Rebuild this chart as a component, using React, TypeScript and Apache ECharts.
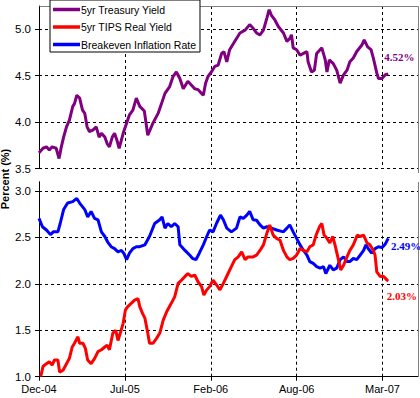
import React, { useEffect, useRef } from "react";
import * as echarts from "echarts";

// x = trading-day index from Dec-04; y = percent
const dateLabels = ["Dec-04", "Jul-05", "Feb-06", "Aug-06", "Mar-07"];
const tickStep = 150;
const xMax = 662;

const treasury: [number, number][] = [
  [0, 3.67], [7, 3.72], [13, 3.735], [18, 3.7], [23, 3.735], [30, 3.72], [35, 3.61], [39, 3.735],
  [43, 3.84], [48, 3.95], [53, 4.02], [59, 4.17], [62, 4.2], [66, 4.29], [71, 4.26], [76, 4.13],
  [80, 4.095], [84, 3.95], [88, 3.9], [94, 3.915], [100, 3.95], [105, 3.84], [109, 3.88], [115, 3.84],
  [119, 3.77], [123, 3.735], [128, 3.84], [132, 3.88], [136, 3.81], [140, 3.72], [144, 3.81], [148, 3.9],
  [153, 3.99], [158, 4.08], [164, 4.13], [170, 4.26], [176, 4.17], [184, 4.12], [190, 3.86], [199, 3.99],
  [208, 4.095], [214, 4.2], [220, 4.31], [228, 4.38], [234, 4.49], [240, 4.54], [246, 4.47], [252, 4.36],
  [260, 4.44], [266, 4.4], [272, 4.36], [278, 4.35], [284, 4.31], [287, 4.29], [291, 4.42], [295, 4.49],
  [301, 4.54], [307, 4.6], [313, 4.615], [319, 4.74], [323, 4.76], [328, 4.65], [333, 4.78], [342, 4.87],
  [351, 4.96], [360, 4.99], [368, 5.05], [374, 5.01], [380, 4.96], [386, 4.94], [392, 4.99], [398, 5.12],
  [402, 5.21], [406, 5.15], [412, 5.1], [418, 5.03], [427, 4.96], [433, 4.87], [438, 4.9], [441, 4.94],
  [444, 4.8], [450, 4.78], [456, 4.72], [462, 4.74], [468, 4.76], [470, 4.65], [476, 4.54], [481, 4.56],
  [485, 4.74], [494, 4.8], [500, 4.67], [503, 4.54], [507, 4.67], [514, 4.63], [520, 4.56], [526, 4.42],
  [532, 4.51], [538, 4.56], [543, 4.65], [549, 4.69], [555, 4.76], [564, 4.83], [568, 4.885], [574, 4.81],
  [580, 4.78], [584, 4.69], [590, 4.53], [593, 4.47], [599, 4.47], [605, 4.51], [610, 4.52],
];

const tipsReal: [number, number][] = [
  [3, 1.0], [7, 1.11], [13, 1.14], [18, 1.16], [23, 1.125], [27, 1.18], [33, 1.18], [36, 1.05],
  [42, 1.07], [48, 1.14], [53, 1.195], [58, 1.32], [62, 1.36], [68, 1.43], [71, 1.36], [77, 1.36],
  [81, 1.305], [85, 1.18], [91, 1.14], [97, 1.195], [103, 1.27], [109, 1.29], [115, 1.32], [119, 1.34],
  [123, 1.29], [129, 1.47], [134, 1.5], [138, 1.39], [142, 1.47], [147, 1.575], [151, 1.72], [155, 1.755],
  [161, 1.79], [167, 1.825], [173, 1.84], [176, 1.755], [181, 1.68], [185, 1.63], [190, 1.47], [193, 1.36],
  [199, 1.36], [205, 1.41], [211, 1.47], [217, 1.61], [223, 1.7], [231, 1.79], [237, 1.86], [243, 2.005],
  [249, 2.04], [255, 2.08], [260, 2.11], [266, 2.08], [272, 2.095], [278, 2.02], [284, 1.97], [288, 1.88],
  [293, 1.935], [298, 1.97], [304, 2.04], [310, 1.99], [316, 1.935], [322, 2.005], [329, 2.095], [336, 2.185],
  [342, 2.26], [348, 2.29], [354, 2.345], [360, 2.26], [365, 2.29], [374, 2.29], [380, 2.31], [386, 2.36],
  [392, 2.42], [398, 2.545], [403, 2.635], [409, 2.525], [415, 2.49], [421, 2.47], [427, 2.36], [433, 2.29],
  [438, 2.26], [444, 2.275], [450, 2.31], [456, 2.38], [462, 2.36], [468, 2.345], [473, 2.4], [479, 2.42],
  [484, 2.525], [490, 2.615], [494, 2.65], [498, 2.525], [503, 2.49], [508, 2.44], [513, 2.51], [517, 2.42],
  [523, 2.26], [527, 2.15], [532, 2.2], [538, 2.29], [543, 2.36], [549, 2.42], [556, 2.525], [561, 2.51],
  [567, 2.525], [573, 2.44], [578, 2.42], [584, 2.36], [587, 2.31], [590, 2.13], [596, 2.08], [602, 2.08],
  [608, 2.04], [610, 2.03],
];

const breakeven: [number, number][] = [
  [0, 2.705], [6, 2.615], [13, 2.58], [20, 2.53], [25, 2.56], [33, 2.56], [37, 2.65], [43, 2.8],
  [50, 2.87], [59, 2.885], [66, 2.92], [71, 2.87], [80, 2.8], [85, 2.72], [91, 2.78], [97, 2.705],
  [103, 2.69], [109, 2.56], [115, 2.51], [120, 2.45], [126, 2.4], [132, 2.38], [138, 2.345], [144, 2.36],
  [148, 2.33], [153, 2.26], [158, 2.33], [164, 2.38], [170, 2.4], [176, 2.4], [185, 2.42], [193, 2.51],
  [202, 2.65], [211, 2.69], [215, 2.72], [220, 2.6], [225, 2.65], [231, 2.615], [237, 2.65], [243, 2.615],
  [246, 2.42], [255, 2.36], [263, 2.31], [268, 2.275], [274, 2.26], [280, 2.33], [287, 2.42], [293, 2.51],
  [298, 2.58], [304, 2.56], [310, 2.65], [317, 2.74], [322, 2.69], [328, 2.6], [336, 2.56], [345, 2.6],
  [351, 2.72], [357, 2.705], [363, 2.74], [368, 2.78], [374, 2.69], [380, 2.685], [386, 2.635], [392, 2.6],
  [398, 2.615], [406, 2.6], [415, 2.58], [427, 2.56], [433, 2.6], [438, 2.635], [444, 2.56], [450, 2.49],
  [456, 2.42], [462, 2.36], [468, 2.31], [473, 2.24], [479, 2.22], [485, 2.185], [491, 2.17], [497, 2.185],
  [501, 2.11], [508, 2.2], [514, 2.15], [520, 2.17], [526, 2.26], [532, 2.29], [538, 2.24], [543, 2.24],
  [549, 2.275], [555, 2.26], [561, 2.31], [567, 2.36], [571, 2.42], [575, 2.38], [581, 2.33], [587, 2.38],
  [593, 2.4], [599, 2.39], [605, 2.43], [610, 2.49],
];

const SANS = "Liberation Sans";
const SERIF = "Liberation Serif";
const dash = { color: "#000", type: [3, 3] as number[], width: 1 };

function xAxisFor(gridIndex: number, visible: boolean) {
  return {
    gridIndex,
    type: "value",
    min: 0,
    max: xMax,
    interval: tickStep,
    axisLine: { show: visible, onZero: false, lineStyle: { color: "#000", width: 1 } },
    axisTick: { show: visible, length: 4, lineStyle: { color: "#000" } },
    axisLabel: {
      show: visible,
      margin: 7,
      fontSize: 11,
      fontFamily: SANS,
      color: "#000",
      showMaxLabel: false,
      formatter: (v: number) => dateLabels[Math.round(v / tickStep)] ?? "",
    },
    splitLine: { show: true, showMinLine: false, showMaxLine: false, lineStyle: dash },
  };
}

function yAxisFor(gridIndex: number, min: number, max: number) {
  return {
    gridIndex,
    type: "value",
    min,
    max,
    interval: 0.5,
    axisLine: { show: true, onZero: false, lineStyle: { color: "#000", width: 1 } },
    axisTick: { show: true, length: 4, lineStyle: { color: "#000" } },
    axisLabel: {
      margin: 8,
      fontSize: 11.5,
      fontFamily: SANS,
      color: "#000",
      showMaxLabel: false,
      formatter: (v: number) => v.toFixed(1),
    },
    splitLine: { show: true, showMaxLine: false, lineStyle: dash },
  };
}

function endLabel(color: string, offset: number[]) {
  return {
    show: true,
    distance: 0,
    offset,
    color,
    fontFamily: SERIF,
    fontWeight: "bold",
    fontSize: 11,
    formatter: (p: any) => `${Number(p.value[1]).toFixed(2)}%`,
  };
}

export default function App() {
  const ref = useRef<HTMLDivElement>(null);
  useEffect(() => {
    document.body.style.margin = "0";
    if (!ref.current) return;
    const chart = echarts.init(ref.current, null, { renderer: "svg" });
    chart.setOption({
      animation: false,
      backgroundColor: "#fff",
      grid: [
        { left: 39, right: 2, top: 6, bottom: 229.3 },
        { left: 39, right: 2, top: 181.7, bottom: 21.3 },
      ],
      xAxis: [xAxisFor(0, false), xAxisFor(1, true)],
      yAxis: [yAxisFor(0, 3.5, 5.25), yAxisFor(1, 1.0, 3.1)],
      legend: {
        data: ["5yr Treasury Yield", "5yr TIPS Real Yield", "Breakeven Inflation Rate"],
        orient: "vertical",
        left: 50,
        top: 0,
        icon: "rect",
        itemWidth: 27,
        itemHeight: 3.5,
        itemGap: 6.5,
        padding: [4, 4, 2, 3],
        backgroundColor: "#fff",
        borderColor: "#000",
        borderWidth: 1,
        borderRadius: 0,
        textStyle: { fontSize: 10.5, fontFamily: SANS, color: "#000", padding: [0, 0, 0, -4] },
      },
      graphic: [
        {
          type: "text",
          x: 5,
          y: 179,
          rotation: Math.PI / 2,
          style: {
            text: "Percent (%)",
            fontFamily: SANS,
            fontWeight: "bold",
            fontSize: 11,
            fill: "#000",
            align: "center",
            verticalAlign: "middle",
          },
        },
        { type: "line", shape: { x1: 39.5, y1: 6.5, x2: 418.5, y2: 6.5 }, style: { stroke: "#808080", lineWidth: 1 }, z: 1 },
        { type: "line", shape: { x1: 418.5, y1: 6.5, x2: 418.5, y2: 173 }, style: { stroke: "#808080", lineWidth: 1 }, z: 1 },
        { type: "line", shape: { x1: 418.5, y1: 182, x2: 418.5, y2: 377 }, style: { stroke: "#808080", lineWidth: 1 }, z: 1 },
      ],
      series: [
        {
          name: "5yr Treasury Yield",
          type: "line",
          xAxisIndex: 0,
          yAxisIndex: 0,
          data: treasury,
          symbol: "none",
          color: "#800080",
          lineStyle: { width: 3, color: "#800080" },
          endLabel: endLabel("#800080", [-4, -16.7]),
        },
        {
          name: "Breakeven Inflation Rate",
          type: "line",
          xAxisIndex: 1,
          yAxisIndex: 1,
          data: breakeven,
          symbol: "none",
          color: "#0000ff",
          lineStyle: { width: 3, color: "#0000ff" },
          endLabel: endLabel("#0000ff", [2.7, 7.7]),
        },
        {
          name: "5yr TIPS Real Yield",
          type: "line",
          xAxisIndex: 1,
          yAxisIndex: 1,
          data: tipsReal,
          symbol: "none",
          color: "#ff0000",
          lineStyle: { width: 3, color: "#ff0000" },
          endLabel: endLabel("#ff0000", [-1.6, 15]),
        },
      ],
    });
    return () => chart.dispose();
  }, []);
  return <div ref={ref} style={{ width: 420, height: 398 }} />;
}
